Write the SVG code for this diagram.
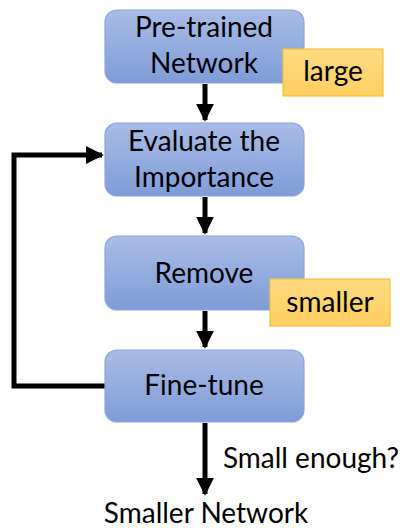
<svg xmlns="http://www.w3.org/2000/svg" width="408" height="528" viewBox="0 0 408 528">
<defs>
<linearGradient id="blue" x1="0" y1="0" x2="0" y2="1">
<stop offset="0" stop-color="#a9bce6"/>
<stop offset="1" stop-color="#7f9cd8"/>
</linearGradient>
<linearGradient id="yel" x1="0" y1="0" x2="0" y2="1">
<stop offset="0" stop-color="#ffda80"/>
<stop offset="1" stop-color="#ffcf60"/>
</linearGradient>
<marker id="ah" viewBox="0 0 10 10" refX="9" refY="5" markerWidth="3.6" markerHeight="3.6" orient="auto" markerUnits="strokeWidth">
<path d="M0,0 L10,5 L0,10 Z" fill="#000"/>
</marker>
</defs>
<style>
.box{fill:url(#blue);stroke:#8aa6dc;stroke-width:1.2}
.tag{fill:url(#yel);stroke:#f2c23e;stroke-width:1.2}
text{font-family:Lato,"Open Sans","Liberation Sans",sans-serif;fill:#000;text-anchor:middle}
.t{font-size:28px}
.c{fill:none;stroke:#000;stroke-width:5}
</style>
<g id="connectors">
<line class="c" x1="205" y1="84" x2="205" y2="120" marker-end="url(#ah)"/>
<line class="c" x1="205" y1="197" x2="205" y2="233" marker-end="url(#ah)"/>
<line class="c" x1="205" y1="311" x2="205" y2="347" marker-end="url(#ah)"/>
<polyline class="c" points="105,386 14,386 14,155 102,155" marker-end="url(#ah)"/>
<line class="c" x1="205" y1="423" x2="205" y2="494" marker-end="url(#ah)"/>
</g>
<g id="pretrained">
<rect class="box" x="105" y="10" width="199" height="73" rx="12"/>
<text class="t" x="204" y="37">Pre-trained</text>
<text class="t" x="204" y="73">Network</text>
</g>
<g id="large">
<rect class="tag" x="283" y="49" width="100" height="47"/>
<text class="t" x="333" y="81">large</text>
</g>
<g id="evaluate">
<rect class="box" x="105" y="123" width="199" height="73" rx="12"/>
<text class="t" x="204" y="151">Evaluate the</text>
<text class="t" x="204" y="187">Importance</text>
</g>
<g id="remove">
<rect class="box" x="105" y="236" width="199" height="74" rx="12"/>
<text class="t" x="204" y="283">Remove</text>
</g>
<g id="smaller">
<rect class="tag" x="270" y="279" width="120" height="47"/>
<text class="t" x="330" y="312">smaller</text>
</g>
<g id="finetune">
<rect class="box" x="105" y="350" width="199" height="72" rx="12"/>
<text class="t" x="204" y="395">Fine-tune</text>
</g>
<g id="labels">
<text class="t" x="311" y="468">Small enough?</text>
<text class="t" x="206" y="523">Smaller Network</text>
</g>
</svg>
